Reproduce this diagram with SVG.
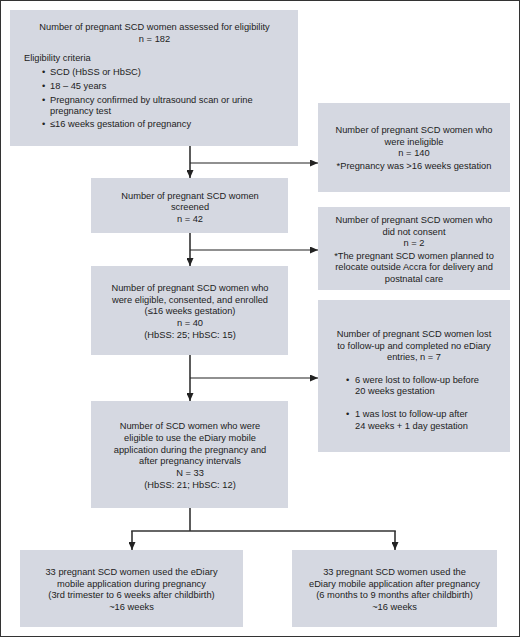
<svg xmlns="http://www.w3.org/2000/svg" width="520" height="637" viewBox="0 0 520 637">
<defs>
<style>
.box{fill:#d5d8e1;}
text{font-family:"Liberation Sans",Arial,sans-serif;font-size:9.3px;fill:#222;}
.c{text-anchor:middle;}
.ln{stroke:#333;stroke-width:1.6;fill:none;}
.lh{stroke:#222;stroke-width:1.1;fill:none;}
</style>
<marker id="ah" viewBox="0 0 8 7" refX="8" refY="3.5" markerWidth="8" markerHeight="7" markerUnits="userSpaceOnUse" orient="auto">
<path d="M0,0 L8,3.5 L0,7 Z" fill="#222"/>
</marker>
</defs>
<rect x="0.5" y="0.5" width="519" height="636" fill="#fff" stroke="#333" stroke-width="1"/>

<g id="assessed">
<rect class="box" x="10" y="10" width="288" height="136"/>
<text class="c" x="154.5" y="30">Number of pregnant SCD women assessed for eligibility</text>
<text class="c" x="154.5" y="42">n = 182</text>
<text x="24" y="61">Eligibility criteria</text>
<text x="42" y="75">•</text><text x="50" y="75">SCD (HbSS or HbSC)</text>
<text x="42" y="89">•</text><text x="50" y="89">18 – 45 years</text>
<text x="42" y="102.5">•</text><text x="50" y="102.5">Pregnancy confirmed by ultrasound scan or urine</text>
<text x="50" y="114">pregnancy test</text>
<text x="42" y="127">•</text><text x="50" y="127">≤16 weeks gestation of pregnancy</text>
</g>

<g id="ineligible">
<rect class="box" x="318" y="103" width="192" height="89"/>
<text class="c" x="414" y="133">Number of pregnant SCD women who</text>
<text class="c" x="414" y="144.5">were ineligible</text>
<text class="c" x="414" y="156">n = 140</text>
<text class="c" x="414" y="168.5">*Pregnancy was &gt;16 weeks gestation</text>
</g>

<g id="screened">
<rect class="box" x="91" y="178" width="197" height="55"/>
<text class="c" x="190" y="198.5">Number of pregnant SCD women</text>
<text class="c" x="190" y="209.5">screened</text>
<text class="c" x="190" y="222">n = 42</text>
</g>

<g id="noconsent">
<rect class="box" x="318" y="207" width="192" height="83"/>
<text class="c" x="414" y="223">Number of pregnant SCD women who</text>
<text class="c" x="414" y="234.5">did not consent</text>
<text class="c" x="414" y="245.5">n = 2</text>
<text class="c" x="414" y="258.5">*The pregnant SCD women planned to</text>
<text class="c" x="414" y="270">relocate outside Accra for delivery and</text>
<text class="c" x="414" y="282">postnatal care</text>
</g>

<g id="enrolled">
<rect class="box" x="91" y="266" width="197" height="89"/>
<text class="c" x="190" y="291">Number of pregnant SCD women who</text>
<text class="c" x="190" y="302.5">were eligible, consented, and enrolled</text>
<text class="c" x="190" y="314">(≤16 weeks gestation)</text>
<text class="c" x="190" y="326">n = 40</text>
<text class="c" x="190" y="337.5">(HbSS: 25; HbSC: 15)</text>
</g>

<g id="lost">
<rect class="box" x="318" y="300" width="192" height="152"/>
<text class="c" x="414" y="337">Number of pregnant SCD women lost</text>
<text class="c" x="414" y="348.5">to follow-up and completed no eDiary</text>
<text class="c" x="414" y="359.5">entries, n = 7</text>
<text x="346" y="383">•</text><text x="355" y="383">6 were lost to follow-up before</text>
<text x="355" y="394">20 weeks gestation</text>
<text x="346" y="417">•</text><text x="355" y="417">1 was lost to follow-up after</text>
<text x="355" y="428.5">24 weeks + 1 day gestation</text>
</g>

<g id="eligible33">
<rect class="box" x="91" y="401" width="197" height="107"/>
<text class="c" x="190" y="429">Number of SCD women who were</text>
<text class="c" x="190" y="441">eligible to use the eDiary mobile</text>
<text class="c" x="190" y="452.5">application during the pregnancy and</text>
<text class="c" x="190" y="464">after pregnancy intervals</text>
<text class="c" x="190" y="476">N = 33</text>
<text class="c" x="190" y="487.5">(HbSS: 21; HbSC: 12)</text>
</g>

<g id="during">
<rect class="box" x="20" y="550" width="223" height="77"/>
<text class="c" x="131.5" y="574.5">33 pregnant SCD women used the eDiary</text>
<text class="c" x="131.5" y="587">mobile application during pregnancy</text>
<text class="c" x="131.5" y="598">(3rd trimester to 6 weeks after childbirth)</text>
<text class="c" x="131.5" y="609.5">~16 weeks</text>
</g>

<g id="after">
<rect class="box" x="292" y="550" width="205" height="77"/>
<text class="c" x="394.5" y="574.5">33 pregnant SCD women used the</text>
<text class="c" x="394.5" y="587">eDiary mobile application after pregnancy</text>
<text class="c" x="394.5" y="598">(6 months to 9 months after childbirth)</text>
<text class="c" x="394.5" y="609.5">~16 weeks</text>
</g>

<g id="connectors">
<line class="ln" x1="190" y1="146" x2="190" y2="178" marker-end="url(#ah)"/>
<line class="lh" x1="190" y1="163" x2="318" y2="163" marker-end="url(#ah)"/>
<line class="ln" x1="190" y1="233" x2="190" y2="266" marker-end="url(#ah)"/>
<line class="lh" x1="190" y1="250" x2="318" y2="250" marker-end="url(#ah)"/>
<line class="ln" x1="190" y1="355" x2="190" y2="401" marker-end="url(#ah)"/>
<line class="lh" x1="190" y1="378" x2="318" y2="378" marker-end="url(#ah)"/>
<line class="ln" x1="190" y1="508" x2="190" y2="531"/>
<line class="ln" x1="131.2" y1="531" x2="395.8" y2="531"/>
<line class="ln" x1="132" y1="531" x2="132" y2="550" marker-end="url(#ah)"/>
<line class="ln" x1="395" y1="531" x2="395" y2="550" marker-end="url(#ah)"/>
</g>
</svg>
